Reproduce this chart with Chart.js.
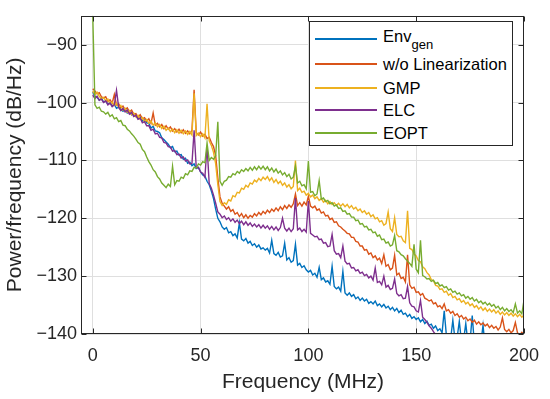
<!DOCTYPE html>
<html>
<head>
<meta charset="utf-8">
<script src="https://cdn.jsdelivr.net/npm/chart.js@4.4.1/dist/chart.umd.min.js"></script>
<style>
  html, body { margin: 0; padding: 0; background: #fff; }
  #wrap { position: relative; width: 550px; height: 399px; }
  #legend { position: absolute; left: 309px; top: 21px; width: 202px; height: 123px;
            border: 1px solid #262626; background: #fff; color: #000;
            font-family: "Liberation Sans", Arial, Helvetica, sans-serif; font-size: 16.5px; }
  .row { position: absolute; left: 0; width: 200px; height: 20px; }
  .row .ln { position: absolute; left: 5px; top: 9.25px; width: 62px; height: 1.5px; }
  .row .tx { position: absolute; left: 73px; top: 0; line-height: 20px; white-space: nowrap; }
  .row sub { font-size: 13px; vertical-align: -7px; line-height: 0; }
</style>
</head>
<body>
<div id="wrap">
  <canvas id="psd" width="550" height="399"></canvas>
  <div id="legend"></div>
</div>
<script>
// frequency grid (MHz), 1 MHz steps from 0 to 200
const freqMHz = Array.from({ length: 201 }, (_, i) => i);

// tick labels
const xTicks = [0, 50, 100, 150, 200];
const yTicks = [-140, -130, -120, -110, -100, -90];

// PSD in dB/Hz (null = below the axis)
const envGenDb = [
  -98.2, -98.9, -99.1, -99.6, -99.2, -99.9, -99.7, -100.3, -100.0, -100.6,
  -100.3, -101.0, -100.8, -101.2, -101.5, -101.1, -101.8, -101.6, -102.1, -101.9,
  -102.2, -102.8, -102.5, -103.2, -103.0, -103.5, -103.6, -104.4, -104.1, -104.9,
  -105.0, -105.2, -106.1, -106.4, -106.8, -107.2, -107.8, -107.6, -108.5, -108.4,
  -109.1, -109.0, -109.8, -109.6, -110.5, -110.3, -110.9, -110.6, -111.4, -111.2,
  -112.0, -112.5, -112.7, -113.6, -114.2, -115.3, -116.6, -118.4, -120.0, -120.6,
  -121.5, -121.9, -121.6, -122.5, -122.3, -123.0, -122.7, -123.4, -120.8, -123.6,
  -123.9, -123.5, -124.3, -124.0, -124.7, -124.4, -125.0, -124.6, -125.3, -125.1,
  -125.5, -125.2, -126.0, -123.8, -126.1, -126.4, -125.9, -126.7, -126.5, -124.3,
  -127.2, -126.8, -127.6, -127.3, -124.5, -128.1, -127.8, -128.5, -128.2, -128.9,
  -129.3, -129.0, -129.8, -129.5, -130.2, -128.5, -130.6, -130.3, -131.0, -130.8,
  -131.4, -128.3, -131.8, -132.2, -131.9, -132.6, -129.2, -132.9, -133.3, -132.9,
  -133.5, -133.2, -133.9, -133.6, -134.2, -133.8, -134.3, -134.0, -134.7, -134.4,
  -134.8, -134.3, -135.1, -134.8, -135.3, -134.9, -135.5, -135.2, -135.8, -135.4,
  -136.0, -135.6, -136.3, -135.9, -136.6, -136.4, -137.0, -136.6, -137.3, -137.0,
  -137.5, -137.2, -137.9, -137.5, -138.2, -137.8, -138.5, -138.3, -139.0, -138.6,
  -139.4, -139.1, -139.8, -136.0, -140.2, -140.0, -140.8, -137.6, -141.0, -140.6,
  -137.8, -141.3, -141.0, -138.2, -141.5, -141.2, -136.8, -141.8, -141.5, -142.0,
  -141.6, -138.5, -142.2, null, null, null, null, null, null, null,
  null, null, null, null, null, null, null, null, null, null,
  null
];
const noLinDb = [
  -97.6, -98.0, -98.5, -98.3, -99.0, -99.2, -99.0, -99.8, -99.5, -100.1,
  -98.6, -100.4, -100.2, -100.9, -100.6, -101.2, -100.9, -101.6, -101.3, -102.0,
  -101.9, -102.5, -102.1, -102.8, -102.6, -103.2, -102.8, -103.6, -101.8, -103.9,
  -103.6, -104.2, -103.8, -104.5, -104.0, -104.6, -104.2, -104.9, -104.5, -105.1,
  -104.6, -105.2, -104.7, -105.3, -104.9, -105.4, -104.8, -97.8, -105.2, -105.6,
  -105.1, -105.8, -105.5, -106.2, -106.0, -106.9, -107.6, -109.2, -113.0, -116.3,
  -117.4, -117.9, -118.4, -118.0, -118.8, -118.5, -119.3, -119.0, -119.7, -119.2,
  -119.9, -119.4, -120.0, -119.5, -119.8, -119.2, -119.6, -119.0, -119.4, -118.8,
  -119.2, -118.6, -119.0, -118.4, -118.8, -118.2, -118.7, -118.0, -118.5, -117.8,
  -118.3, -117.7, -118.1, -117.5, -115.8, -117.8, -117.3, -117.9, -117.2, -117.7,
  -116.2, -117.9, -118.2, -117.9, -118.6, -118.4, -119.1, -118.9, -119.6, -119.5,
  -120.2, -120.0, -120.7, -120.6, -121.3, -121.5, -121.9, -122.2, -122.6, -122.7,
  -123.3, -123.3, -124.0, -124.1, -124.8, -124.8, -125.5, -125.4, -126.2, -126.0,
  -126.8, -126.5, -127.2, -126.9, -127.8, -126.3, -128.3, -128.0, -128.9, -128.6,
  -126.4, -129.8, -129.5, -130.4, -130.2, -131.0, -126.3, -131.5, -132.1, -131.9,
  -132.8, -132.7, -133.3, -133.0, -133.8, -134.0, -134.3, -134.1, -134.8, -134.6,
  -135.3, -135.1, -135.6, -134.8, -136.0, -135.8, -136.4, -136.1, -136.8, -136.5,
  -137.1, -136.8, -137.4, -137.1, -137.7, -137.4, -138.0, -137.6, -138.3, -137.9,
  -138.4, -138.1, -138.6, -138.3, -138.9, -138.5, -139.0, -138.7, -139.3, -138.8,
  -137.2, -139.2, -139.6, -139.2, -139.8, -139.4, -138.0, -139.8, -140.2, -139.7,
  -140.1
];
const gmpDb = [
  -98.0, -98.6, -98.2, -98.9, -99.3, -99.1, -99.7, -99.4, -100.2, -99.9,
  -100.5, -100.1, -100.8, -100.5, -101.3, -101.0, -101.7, -101.4, -102.1, -101.8,
  -102.5, -102.2, -102.9, -102.6, -103.3, -102.9, -103.6, -103.2, -103.9, -103.5,
  -104.2, -103.8, -104.5, -104.1, -104.8, -104.4, -105.0, -104.6, -105.2, -104.7,
  -105.3, -104.8, -105.4, -104.9, -105.5, -105.0, -105.6, -98.4, -105.7, -105.3,
  -105.9, -105.4, -106.1, -100.2, -106.6, -107.4, -108.6, -110.6, -114.2, -117.1,
  -117.8, -117.3, -117.6, -116.8, -117.0, -116.1, -116.3, -115.5, -115.6, -114.8,
  -115.0, -114.3, -114.6, -113.9, -114.1, -113.4, -113.7, -113.1, -113.5, -112.9,
  -113.3, -112.8, -113.5, -113.0, -113.8, -113.3, -114.0, -113.6, -114.3, -113.9,
  -114.6, -114.2, -114.9, -114.5, -110.0, -115.2, -114.8, -115.5, -115.3, -116.0,
  -115.7, -116.3, -116.0, -116.6, -116.3, -116.9, -116.6, -117.2, -116.9, -117.5,
  -117.1, -117.6, -117.3, -117.8, -117.4, -117.9, -117.5, -118.0, -117.6, -118.2,
  -117.8, -118.4, -118.1, -118.7, -118.4, -119.0, -118.7, -119.3, -119.0, -119.7,
  -119.4, -120.1, -119.9, -120.6, -120.4, -121.2, -120.9, -118.9, -121.8, -122.3,
  -119.9, -122.8, -123.2, -123.1, -123.9, -124.2, -118.7, -125.2, -125.4, -126.2,
  -126.5, -127.3, -127.5, -128.4, -128.7, -129.4, -129.8, -130.6, -130.8, -131.6,
  -131.7, -132.3, -132.2, -132.8, -132.6, -133.3, -133.0, -133.7, -133.5, -134.1,
  -133.9, -134.5, -134.2, -134.8, -134.5, -135.1, -134.8, -135.4, -135.1, -135.7,
  -135.3, -135.9, -135.5, -136.1, -135.7, -136.2, -135.8, -136.4, -136.0, -136.6,
  -136.2, -136.7, -136.3, -136.8, -136.4, -136.9, -136.5, -137.0, -136.6, -137.1,
  -136.7
];
const elcDb = [
  -98.7, -99.3, -98.9, -99.6, -99.4, -100.0, -99.7, -100.4, -100.1, -100.7,
  -100.4, -97.9, -100.8, -101.4, -101.0, -101.6, -101.3, -102.0, -101.7, -102.4,
  -102.2, -102.9, -102.7, -103.5, -103.3, -104.0, -104.0, -104.8, -104.6, -105.4,
  -105.3, -106.0, -106.1, -106.9, -107.0, -107.6, -107.7, -108.4, -108.3, -109.0,
  -108.9, -109.6, -109.4, -110.1, -109.9, -110.6, -110.5, -104.8, -111.3, -111.2,
  -112.0, -112.2, -112.9, -107.5, -114.0, -114.8, -116.0, -117.4, -118.9, -119.3,
  -119.9, -119.6, -120.2, -119.9, -120.5, -120.1, -120.7, -120.3, -120.9, -120.5,
  -121.1, -120.6, -121.2, -120.8, -121.4, -121.0, -121.5, -121.1, -121.7, -121.2,
  -121.7, -121.3, -121.9, -121.4, -122.0, -121.5, -122.1, -121.6, -120.0, -121.7,
  -122.2, -121.7, -122.3, -121.8, -116.5, -122.0, -121.7, -122.3, -121.9, -122.4,
  -117.0, -122.6, -122.9, -123.2, -123.1, -123.7, -123.6, -124.3, -124.2, -124.9,
  -124.8, -122.8, -125.6, -126.2, -126.1, -126.8, -124.8, -127.4, -127.9, -127.8,
  -128.6, -128.5, -129.1, -128.9, -129.5, -129.3, -129.9, -129.7, -130.3, -130.0,
  -130.7, -128.6, -131.1, -130.9, -131.5, -130.0, -131.9, -131.6, -132.3, -132.1,
  -130.5, -133.0, -133.4, -133.2, -133.9, -133.8, -131.8, -134.6, -135.2, -135.3,
  -136.0, -136.2, -134.2, -137.1, -137.5, -138.0, -138.6, -139.0, -139.6, -140.1,
  -140.5, null, null, null, null, null, null, null, null, null,
  null, null, null, null, null, null, null, null, null, null,
  null, null, null, null, null, null, null, null, null, null,
  null, null, null, null, null, null, null, null, null, null,
  null
];
const eoptDb = [
  -85.0, -100.4, -101.0, -100.8, -101.5, -101.6, -102.0, -101.7, -102.4, -102.1,
  -102.8, -102.6, -103.3, -103.1, -103.9, -104.0, -104.6, -104.9, -105.4, -105.8,
  -106.3, -106.9, -107.2, -108.1, -108.5, -109.4, -110.2, -110.8, -111.6, -112.0,
  -112.8, -113.2, -113.9, -114.3, -114.7, -114.1, -114.5, -111.0, -114.2, -113.5,
  -113.6, -112.9, -113.1, -112.3, -112.5, -111.8, -111.9, -111.2, -111.3, -110.6,
  -110.8, -110.2, -110.4, -107.0, -110.0, -109.5, -109.8, -109.2, -103.3, -113.6,
  -114.3, -113.6, -113.4, -112.8, -112.9, -112.3, -112.5, -111.9, -112.2, -111.6,
  -111.9, -111.4, -111.8, -111.2, -111.7, -111.1, -111.6, -111.0, -111.5, -111.0,
  -111.6, -111.1, -111.8, -111.3, -112.0, -111.5, -112.2, -111.8, -112.5, -112.1,
  -112.8, -112.4, -113.2, -112.9, -111.0, -113.9, -113.6, -114.4, -114.2, -114.9,
  -110.1, -115.5, -115.4, -116.1, -115.8, -113.5, -116.7, -116.5, -117.1, -116.9,
  -117.5, -117.3, -117.9, -117.7, -118.3, -118.2, -118.8, -118.7, -119.3, -119.2,
  -119.8, -119.8, -120.4, -120.3, -121.0, -120.9, -121.5, -121.4, -122.0, -121.9,
  -122.5, -122.4, -123.1, -122.9, -123.7, -123.6, -124.3, -124.1, -124.8, -124.6,
  -123.0, -125.6, -125.8, -126.3, -126.5, -127.0, -127.4, -127.8, -128.3, -124.5,
  -128.8, -129.4, -123.8, -129.9, -130.1, -130.5, -130.4, -130.9, -130.7, -131.3,
  -131.1, -131.7, -131.5, -132.0, -131.8, -132.4, -132.2, -132.8, -132.6, -133.1,
  -132.9, -133.4, -133.2, -133.8, -133.5, -134.0, -133.7, -134.3, -134.0, -134.6,
  -134.3, -134.8, -134.5, -135.0, -134.7, -135.2, -134.9, -135.5, -135.2, -135.8,
  -135.4, -136.0, -135.6, -136.1, -135.8, -136.3, -134.8, -136.4, -136.0, -136.5,
  -134.2
];

const FONT = '"Liberation Sans", Arial, Helvetica, sans-serif';
const AXIS_COLOR = '#262626';
const GRID_COLOR = '#dfdfdf';

// MATLAB default colour order; later series are drawn on top
const series = [
  { name: 'Env<sub>gen</sub>', values: envGenDb, color: '#0072BD', order: 5 },
  { name: 'w/o Linearization', values: noLinDb, color: '#D95319', order: 4 },
  { name: 'GMP', values: gmpDb, color: '#EDB120', order: 3 },
  { name: 'ELC', values: elcDb, color: '#7E2F8E', order: 2 },
  { name: 'EOPT', values: eoptDb, color: '#77AC30', order: 1 }
];

const minusLabel = v => (v < 0 ? '\u2212' + Math.abs(v) : String(v));

// box around the axes with inward tick marks on all four sides
const axesBox = {
  id: 'axesBox',
  afterDatasetsDraw(chart) {
    const { ctx, chartArea: a, scales: { x, y } } = chart;
    const L = Math.round(a.left) - 0.5, R = Math.round(a.right) - 0.5;
    const T = Math.round(a.top) + 0.5, B = Math.round(a.bottom) - 0.5;
    ctx.save();
    ctx.strokeStyle = AXIS_COLOR;
    ctx.lineWidth = 1;
    ctx.strokeRect(L, T, R - L, B - T);
    ctx.beginPath();
    xTicks.forEach(v => {
      const px = Math.round(x.getPixelForValue(v)) + 0.5;
      ctx.moveTo(px, B); ctx.lineTo(px, B - 5);
      ctx.moveTo(px, T); ctx.lineTo(px, T + 5);
    });
    yTicks.forEach(v => {
      const py = Math.round(y.getPixelForValue(v)) + 0.5;
      ctx.moveTo(L, py); ctx.lineTo(L + 5, py);
      ctx.moveTo(R, py); ctx.lineTo(R - 5, py);
    });
    ctx.stroke();
    ctx.restore();
  }
};

new Chart(document.getElementById('psd'), {
  type: 'line',
  data: {
    datasets: series.map(s => ({
      label: s.name,
      data: freqMHz.map((f, i) => ({ x: f, y: s.values[i] })),
      borderColor: s.color,
      borderWidth: 1.4,
      pointRadius: 0,
      tension: 0,
      spanGaps: false,
      order: s.order
    }))
  },
  options: {
    responsive: false,
    animation: false,
    events: [],
    layout: { padding: { left: 0, right: 20, top: 10, bottom: 0 } },
    plugins: { legend: { display: false }, tooltip: { enabled: false } },
    scales: {
      x: {
        type: 'linear', min: -5, max: 200,
        afterBuildTicks: s => { s.ticks = xTicks.map(v => ({ value: v })); },
        afterFit: s => { s.height = 65; },
        grid: { color: GRID_COLOR, drawTicks: false },
        border: { display: false },
        ticks: { padding: 11, color: AXIS_COLOR, font: { family: FONT, size: 18 }, callback: minusLabel },
        title: { display: true, text: 'Frequency (MHz)', color: AXIS_COLOR,
                 font: { family: FONT, size: 21 }, padding: { top: 0, bottom: 4 } }
      },
      y: {
        type: 'linear', min: -140, max: -85,
        afterBuildTicks: s => { s.ticks = yTicks.map(v => ({ value: v })); },
        afterFit: s => { s.width = 82; },
        grid: { color: GRID_COLOR, drawTicks: false },
        border: { display: false },
        ticks: { padding: 5, color: AXIS_COLOR, font: { family: FONT, size: 18 }, callback: minusLabel },
        title: { display: true, text: 'Power/frequency (dB/Hz)', color: AXIS_COLOR,
                 font: { family: FONT, size: 21 }, padding: { top: 3, bottom: 0 } }
      }
    }
  },
  plugins: [axesBox]
});

// legend (HTML so the subscript stays real text)
const rowCentres = [17, 42, 66, 88, 111];
const legend = document.getElementById('legend');
series.forEach((s, i) => {
  const row = document.createElement('div');
  row.className = 'row';
  row.style.top = (rowCentres[i] - 10) + 'px';
  const ln = document.createElement('span');
  ln.className = 'ln';
  ln.style.background = s.color;
  const tx = document.createElement('span');
  tx.className = 'tx';
  tx.innerHTML = s.name;
  if (i === 0) tx.style.top = '-3px';
  row.appendChild(ln);
  row.appendChild(tx);
  legend.appendChild(row);
});
</script>
</body>
</html>
